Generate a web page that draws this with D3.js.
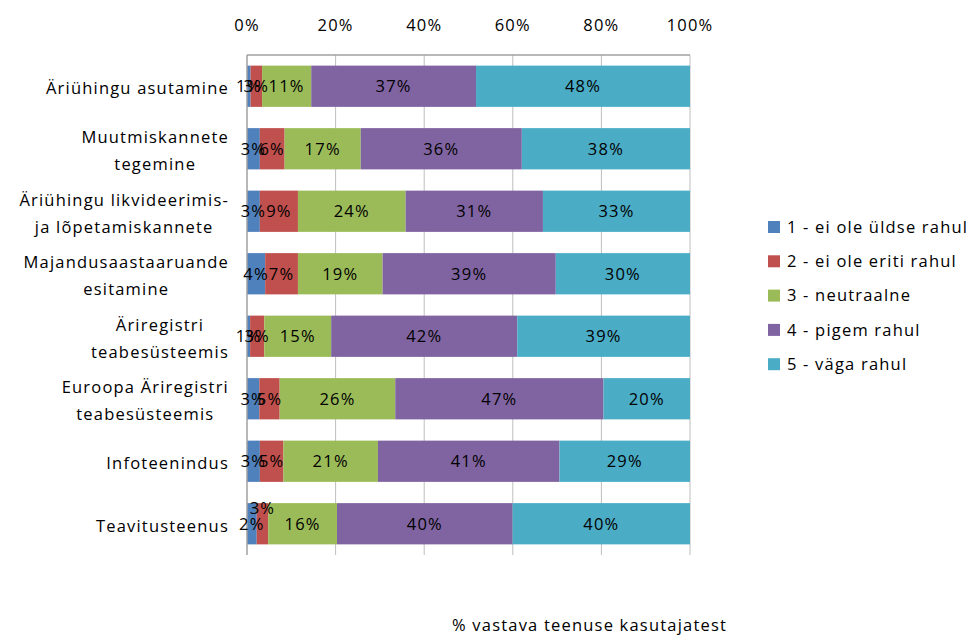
<!DOCTYPE html>
<html>
<head>
<meta charset="utf-8">
<script src="https://cdn.jsdelivr.net/npm/d3@7"></script>
<style>
  body { margin: 0; background: #fff; }
  text { font-family: "Open Sans", sans-serif; font-size: 16.5px; letter-spacing: 1.2px; fill: #000; }
</style>
</head>
<body>
<svg width="973" height="637"></svg>
<script>
// categories, top to bottom ("\n" = line break as in the original)
var categories = [
  "Äriühingu asutamine",
  "Muutmiskannete\ntegemine",
  "Äriühingu likvideerimis-\nja lõpetamiskannete",
  "Majandusaastaaruande\nesitamine",
  "Äriregistri\nteabesüsteemis",
  "Euroopa Äriregistri\nteabesüsteemis",
  "Infoteenindus",
  "Teavitusteenus"
];

var seriesNames = [
  "1 - ei ole üldse rahul",
  "2 - ei ole eriti rahul",
  "3 - neutraalne",
  "4 - pigem rahul",
  "5 - väga rahul"
];

// shares in %
var eiOleYldse   = [0.8, 2.9, 2.9, 4.1, 0.7, 2.8, 2.9, 2.2];
var eiOleEriti   = [2.6, 5.6, 8.6, 7.4, 3.2, 4.6, 5.3, 2.6];
var neutraalne   = [11.1, 17.2, 24.3, 19.1, 15.1, 26.2, 21.3, 15.6];
var pigemRahul   = [37.2, 36.4, 31.0, 39.1, 42.0, 47.2, 40.9, 39.8];
var vagaRahul    = [48.3, 38.0, 33.2, 30.3, 39.0, 19.6, 29.4, 40.2];

var xTicks = [0, 0.2, 0.4, 0.6, 0.8, 1];
var colors = ["#4F81BD", "#C0504D", "#9BBB59", "#8064A2", "#4BACC6"];

var seriesValues = [eiOleYldse, eiOleEriti, neutraalne, pigemRahul, vagaRahul];
var rows = categories.map(function(c, i) {
  var r = { category: c };
  seriesNames.forEach(function(s, j) { r[s] = seriesValues[j][i]; });
  return r;
});

var svg = d3.select("svg");
var plotLeft = 247, plotRight = 690, plotTop = 55, plotBottom = 555;

var x = d3.scaleLinear().domain([0, 1]).range([plotLeft, plotRight]);
var y = d3.scaleBand().domain(categories).range([plotTop, plotBottom])
    .paddingInner(0.34).paddingOuter(0.17);
var color = d3.scaleOrdinal().domain(seriesNames).range(colors);

var stacked = d3.stack().keys(seriesNames).offset(d3.stackOffsetExpand)(rows);

// gridlines
svg.append("g")
  .selectAll("line")
  .data(xTicks.slice(1))
  .join("line")
    .attr("x1", function(d) { return x(d); })
    .attr("x2", function(d) { return x(d); })
    .attr("y1", plotTop).attr("y2", plotBottom)
    .attr("stroke", "#BEBEBE").attr("stroke-width", 1);

// bars
var layer = svg.append("g")
  .selectAll("g")
  .data(stacked)
  .join("g")
    .attr("fill", function(d) { return color(d.key); });

layer.selectAll("rect")
  .data(function(d) { return d; })
  .join("rect")
    .attr("x", function(d) { return x(d[0]); })
    .attr("width", function(d) { return x(d[1]) - x(d[0]); })
    .attr("y", function(d) { return y(d.data.category); })
    .attr("height", y.bandwidth());

// axis lines (top value axis, left category axis)
svg.append("line")
  .attr("x1", plotLeft).attr("x2", plotRight).attr("y1", plotTop).attr("y2", plotTop)
  .attr("stroke", "#A0A0A0").attr("stroke-width", 1.5);
svg.append("line")
  .attr("x1", plotLeft).attr("x2", plotLeft).attr("y1", plotTop).attr("y2", plotBottom)
  .attr("stroke", "#A0A0A0").attr("stroke-width", 1.5);

// value labels
var labels = svg.append("g");
stacked.forEach(function(s) {
  labels.append("g")
    .selectAll("text")
    .data(s)
    .join("text")
      .attr("x", function(d) { return (x(d[0]) + x(d[1])) / 2; })
      .attr("y", function(d) {
        var yy = y(d.data.category) + y.bandwidth() / 2;
        // Excel moved this one label up to avoid overlap
        if (s.key === seriesNames[1] && d.data.category === "Teavitusteenus") yy -= 16;
        return yy;
      })
      .attr("dy", "0.35em")
      .attr("text-anchor", "middle")
      .text(function(d) { return Math.round(d.data[s.key]) + "%"; });
});

// x tick labels on top
svg.append("g")
  .selectAll("text")
  .data(xTicks)
  .join("text")
    .attr("x", function(d) { return x(d); })
    .attr("y", 25)
    .attr("dy", "0.35em")
    .attr("text-anchor", "middle")
    .text(function(d) { return d3.format(".0%")(d); });

// category labels: block right aligned, lines centered
var lineH = 27;
svg.append("g")
  .selectAll("g")
  .data(categories)
  .join("g")
  .each(function(c) {
    var g = d3.select(this);
    var lines = c.split("\n");
    var cy = y(c) + y.bandwidth() / 2;
    var t = g.selectAll("text").data(lines).join("text")
      .attr("y", function(d, i) { return cy + (i - (lines.length - 1) / 2) * lineH + 2; })
      .attr("dy", "0.35em")
      .attr("text-anchor", "middle")
      .text(function(d) { return d; });
    var w = d3.max(t.nodes(), function(n) { return n.getComputedTextLength(); });
    t.attr("x", 229 - w / 2);
  });

// legend
var legend = svg.append("g")
  .selectAll("g")
  .data(seriesNames)
  .join("g")
    .attr("transform", function(d, i) { return "translate(768," + (227 + i * 34.3) + ")"; });
legend.append("rect")
  .attr("x", 0).attr("y", -6).attr("width", 12).attr("height", 12)
  .attr("fill", function(d) { return color(d); });
legend.append("text")
  .attr("x", 19).attr("dy", "0.35em")
  .text(function(d) { return d; });

// axis title
svg.append("text")
  .attr("x", 452).attr("y", 625).attr("dy", "0.35em")
  .text("% vastava teenuse kasutajatest");
</script>
</body>
</html>
